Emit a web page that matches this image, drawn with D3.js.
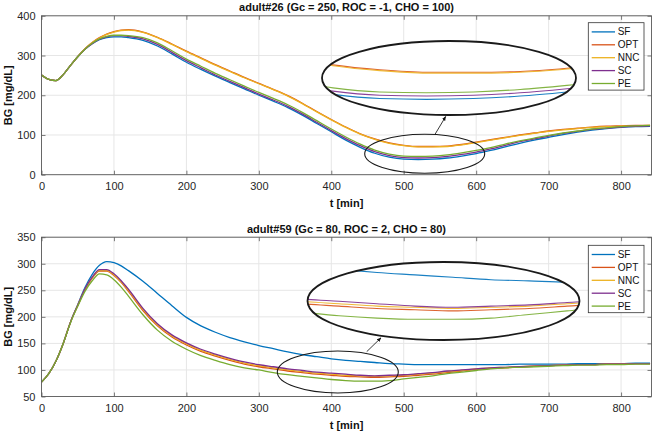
<!DOCTYPE html>
<html>
<head>
<meta charset="utf-8">
<script src="https://cdn.jsdelivr.net/npm/d3@7"></script>
<style>
html,body{margin:0;padding:0;background:#fff;}
svg{display:block;font-family:"Liberation Sans",Arial,Helvetica,sans-serif;}
</style>
</head>
<body>
<svg id="chart" width="654" height="433"></svg>
<script>
// ---------------- DATA ----------------
const tMin = [0,10,20,30,40,50,60,70,80,90,100,110,120,140,160,180,200,220,240,260,280,300,320,340,360,380,400,420,440,460,480,500,520,540,560,580,600,620,640,660,680,700,720,740,760,780,800,820,840];
const seriesNames = ["SF","OPT","NNC","SC","PE"];
const seriesColors = ["#0072BD","#D95319","#EDB120","#7E2F8E","#77AC30"];
const xTicks = [0,100,200,300,400,500,600,700,800];

const title26 = "adult#26 (Gc = 250, ROC = -1, CHO = 100)";
const yTicks26 = [0,100,200,300,400];
const a26_SF  = [251,240,237,252,275,297,316,330,340,345,347,347,345,338,324,304,283,265,248,232,216,200,185,169,150,129,108,87,69,54,44,39,38,39,42,47,53,61,70,79,87,94,101,107,112,116,119,121,122];
const a26_OPT = [251,240,237,252,275,297,317,333,345,354,360,364,365,359,346,329,311,294,277,261,245,230,215,199,180,159,139,120,103,90,80,74,71,71,72,76,82,88,94,100,105,110,114,117,120,122,123,124,124];
const a26_NNC = [251,240,237,252,275,297,317,333,344,353,359,363,364,358,345,328,310,293,276,260,244,229,214,198,179,158,138,119,102,89,79,73,70,70,71,75,81,87,93,99,104,109,113,116,119,121,122,123,124];
const a26_SC  = [251,240,237,252,275,297,316,330,341,347,350,350,348,342,328,308,287,269,251,235,219,203,188,172,153,132,111,91,73,58,48,43,42,43,46,51,57,65,74,83,90,97,104,109,114,117,120,122,123];
const a26_PE  = [251,240,237,252,275,297,316,331,342,348,351,351,350,345,332,312,291,273,255,239,223,207,192,176,157,136,115,95,77,62,52,47,46,47,50,55,61,68,77,85,92,99,105,110,115,118,121,123,124];

const title59 = "adult#59 (Gc = 80, ROC = 2, CHO = 80)";
const yTicks59 = [50,100,150,200,250,300,350];
const a59_SF  = [77,93,117,150,190,223,255,280,297,304,302,296,287,267,244,221,199,183,171,161,153,146,140,134,129,125,121,118,116,114,112,111,110,110,110,110,110,110,110,111,111,111,111,112,112,112,112,113,113];
const a59_OPT = [77,93,117,150,190,221,251,273,286,286,278,265,248,212,183,162,147,135,126,118,111,106,102,98,95,92,90,88,87,86,87,88,90,92,95,98,101,103,104,106,107,108,109,110,110,111,111,112,112];
const a59_NNC = [77,93,117,150,190,222,252,274,287,287,279,266,250,214,185,164,149,137,128,120,113,108,104,100,97,94,92,90,89,88,89,90,92,94,97,99,102,104,105,106,107,108,109,110,110,111,111,112,112];
const a59_SC  = [77,93,117,150,190,222,253,275,289,289,281,268,252,216,187,166,151,139,130,122,115,110,106,102,99,96,94,92,90,89,90,91,93,95,98,100,102,104,105,106,107,108,109,110,110,111,111,112,112];
const a59_PE  = [77,93,117,150,189,220,248,268,281,279,270,256,239,204,175,154,139,127,118,110,104,100,95,91,88,85,82,80,79,79,80,83,86,89,93,96,99,102,104,105,106,107,108,109,109,110,110,111,111];

// ---------------- DRAW ----------------
const svg = d3.select("#chart");
const defs = svg.append("defs");
defs.append("marker").attr("id","arrow").attr("viewBox","0 0 10 10")
  .attr("refX",9).attr("refY",5).attr("markerWidth",5).attr("markerHeight",5)
  .attr("orient","auto-start-reverse")
  .append("path").attr("d","M0,1 L10,5 L0,9 Z").attr("fill","#111");

const panels = [
  { title: title26, yTicks: yTicks26, yDomain:[0,400], series:[a26_SF,a26_OPT,a26_NNC,a26_SC,a26_PE],
    top:15.8, bottom:174.7, titleY:11.3, xLabelY:206.8, legendTop:22.7,
    big:{cx:449,cy:78,rx:127,ry:37, xd:[480,580], xr:[333,567], yd:[30,80], yr:[105.9,64.9]},
    small:{cx:424.7,cy:153.8,rx:60,ry:19.5},
    arrow:[435,134.3,445.7,116.5] },
  { title: title59, yTicks: yTicks59, yDomain:[50,350], series:[a59_SF,a59_OPT,a59_NNC,a59_SC,a59_PE],
    top:237.2, bottom:396.5, titleY:233, xLabelY:429, legendTop:245.3,
    big:{cx:443.5,cy:301,rx:136,ry:39, xd:[390,520], xr:[320,567], yd:[60,130], yr:[342.1,258.1]},
    small:{cx:337.8,cy:372,rx:60.5,ry:21},
    arrow:[366.7,351.7,381,337.8] }
];

const left = 41.5, right = 651.5;

panels.forEach((p, pi) => {
  const g = svg.append("g");
  const x = d3.scaleLinear().domain([0,842]).range([left,right]);
  const y = d3.scaleLinear().domain(p.yDomain).range([p.bottom,p.top]);

  // grid
  g.append("g").selectAll("line.gx").data(xTicks).join("line")
    .attr("x1",d=>x(d)).attr("x2",d=>x(d)).attr("y1",p.top).attr("y2",p.bottom)
    .attr("stroke","#e6e6e6").attr("stroke-width",1);
  g.append("g").selectAll("line.gy").data(p.yTicks).join("line")
    .attr("x1",left).attr("x2",right).attr("y1",d=>y(d)).attr("y2",d=>y(d))
    .attr("stroke","#e6e6e6").attr("stroke-width",1);

  // series lines
  const line = d3.line().x((d,i)=>x(tMin[i])).y(d=>y(d)).curve(d3.curveMonotoneX);
  const clipId = "plotclip"+pi;
  defs.append("clipPath").attr("id",clipId).append("rect")
    .attr("x",left).attr("y",p.top).attr("width",right-left).attr("height",p.bottom-p.top);
  const lg = g.append("g").attr("clip-path",`url(#${clipId})`);
  p.series.forEach((s,si)=>{
    lg.append("path").datum(s).attr("d",line).attr("fill","none")
      .attr("stroke",seriesColors[si]).attr("stroke-width",1.3);
  });

  // box
  g.append("rect").attr("x",left).attr("y",p.top).attr("width",right-left).attr("height",p.bottom-p.top)
    .attr("fill","none").attr("stroke","#5a5a5a").attr("stroke-width",0.9);

  // axes
  const fmt = d3.format("d");
  const ax = g.append("g").attr("transform",`translate(0,${p.bottom})`)
    .call(d3.axisBottom(x).tickValues(xTicks).tickFormat(fmt).tickSize(-4).tickPadding(8));
  const ay = g.append("g").attr("transform",`translate(${left},0)`)
    .call(d3.axisLeft(y).tickValues(p.yTicks).tickFormat(fmt).tickSize(-4).tickPadding(6));
  const axT = g.append("g").attr("transform",`translate(0,${p.top})`)
    .call(d3.axisTop(x).tickValues(xTicks).tickFormat("").tickSize(-4));
  const ayR = g.append("g").attr("transform",`translate(${right},0)`)
    .call(d3.axisRight(y).tickValues(p.yTicks).tickFormat("").tickSize(-4));
  [ax,ay,axT,ayR].forEach(a=>{
    a.select(".domain").remove();
    a.selectAll(".tick line").attr("stroke","#5a5a5a").attr("stroke-width",0.8);
    a.selectAll(".tick text").attr("fill","#262626").style("font-size","11px")
      .style("font-family","'Liberation Sans',Arial,Helvetica,sans-serif");
  });

  // titles / labels
  g.append("text").attr("x",346.5).attr("y",p.titleY).attr("text-anchor","middle")
    .style("font-size","11px").style("font-weight","bold").attr("fill","#111").text(p.title);
  g.append("text").attr("x",346.5).attr("y",p.xLabelY).attr("text-anchor","middle")
    .style("font-size","11px").style("font-weight","bold").attr("fill","#111").text("t [min]");
  const cy = (p.top+p.bottom)/2;
  g.append("text").attr("transform",`translate(12,${cy}) rotate(-90)`).attr("text-anchor","middle")
    .style("font-size","11px").style("font-weight","bold").attr("fill","#111").text("BG [mg/dL]");

  // small ellipse
  g.append("ellipse").attr("cx",p.small.cx).attr("cy",p.small.cy).attr("rx",p.small.rx).attr("ry",p.small.ry)
    .attr("fill","none").attr("stroke","#1a1a1a").attr("stroke-width",1.1);

  // arrow
  g.append("line").attr("x1",p.arrow[0]).attr("y1",p.arrow[1]).attr("x2",p.arrow[2]).attr("y2",p.arrow[3])
    .attr("stroke","#222").attr("stroke-width",0.9).attr("marker-end","url(#arrow)");

  // magnified inset
  const b = p.big;
  const ix = d3.scaleLinear().domain(b.xd).range(b.xr);
  const iy = d3.scaleLinear().domain(b.yd).range(b.yr);
  const insetId = "inset"+pi;
  defs.append("clipPath").attr("id",insetId).append("ellipse")
    .attr("cx",b.cx).attr("cy",b.cy).attr("rx",b.rx).attr("ry",b.ry);
  g.append("ellipse").attr("cx",b.cx).attr("cy",b.cy).attr("rx",b.rx).attr("ry",b.ry).attr("fill","#fff");
  const iline = d3.line().x((d,i)=>ix(tMin[i])).y(d=>iy(d)).curve(d3.curveMonotoneX);
  const ig = g.append("g").attr("clip-path",`url(#${insetId})`);
  p.series.forEach((s,si)=>{
    ig.append("path").datum(s).attr("d",iline).attr("fill","none")
      .attr("stroke",seriesColors[si]).attr("stroke-width",1.1).attr("stroke-opacity",0.9);
  });
  g.append("ellipse").attr("cx",b.cx).attr("cy",b.cy).attr("rx",b.rx).attr("ry",b.ry)
    .attr("fill","none").attr("stroke","#1a1a1a").attr("stroke-width",1.8);

  // legend
  const L = g.append("g").attr("transform",`translate(588.3,${p.legendTop})`);
  L.append("rect").attr("x",0).attr("y",0).attr("width",55.7).attr("height",67.4)
    .attr("fill","#fff").attr("stroke","#333").attr("stroke-width",0.8);
  seriesNames.forEach((n,i)=>{
    const yy = 9.2 + i*12.9;
    L.append("line").attr("x1",3.4).attr("x2",26.7).attr("y1",yy).attr("y2",yy)
      .attr("stroke",seriesColors[i]).attr("stroke-width",1.3);
    L.append("text").attr("x",29.4).attr("y",yy).attr("dy","0.35em")
      .style("font-size","10px").attr("fill","#111").text(n);
  });
});
</script>
</body>
</html>
